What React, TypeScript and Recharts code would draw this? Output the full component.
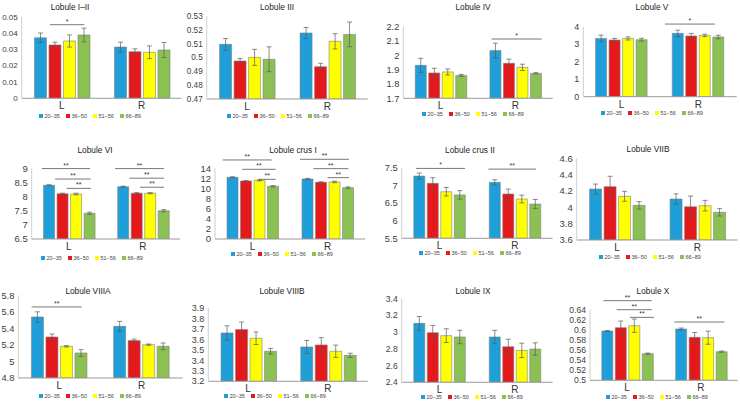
import React from 'react';
import { BarChart, Bar, XAxis, YAxis, ErrorBar, ReferenceLine, Legend } from 'recharts';

const sides = ['L', 'R'];
const ageGroups = ['20–35', '36–50', '51–56', '66–89'];
const barColors = ['#1E9FDA', '#E3191C', '#FFFF00', '#8BC153'];

const titles = ['Lobule I–II', 'Lobule III', 'Lobule IV', 'Lobule V', 'Lobule VI', 'Lobule crus I', 'Lobule crus II', 'Lobule VIIB', 'Lobule VIIIA', 'Lobule VIIIB', 'Lobule IX', 'Lobule X'];

// mean values [L, R] x 4 age groups, and standard errors
const meanI_II = [[0.0371, 0.0327, 0.0351, 0.0388], [0.0314, 0.0286, 0.0282, 0.0296]];
const errI_II = [[0.0029, 0.0017, 0.0037, 0.0042], [0.003, 0.0017, 0.0039, 0.0046]];
const meanIII = [[0.5095, 0.4975, 0.5001, 0.4987], [0.5177, 0.4934, 0.5117, 0.5167]];
const errIII = [[0.0042, 0.0018, 0.0058, 0.009], [0.004, 0.0024, 0.0055, 0.0089]];
const meanIV = [[1.93, 1.877, 1.884, 1.86], [2.033, 1.944, 1.916, 1.874]];
const errIV = [[0.049, 0.033, 0.021, 0.007], [0.052, 0.03, 0.022, 0.005]];
const meanV = [[3.33, 3.24, 3.33, 3.26], [3.62, 3.47, 3.5, 3.41]];
const errV = [[0.19, 0.09, 0.09, 0.08], [0.18, 0.15, 0.07, 0.1]];
const meanVI = [[8.4, 8.1, 8.09, 7.41], [8.35, 8.12, 8.12, 7.5]];
const errVI = [[0.02, 0.02, 0.03, 0.04], [0.02, 0.02, 0.02, 0.04]];
const meanCrusI = [[12.22, 11.49, 11.62, 10.44], [11.89, 11.23, 11.3, 10.17]];
const errCrusI = [[0.1, 0.1, 0.1, 0.15], [0.12, 0.1, 0.15, 0.15]];
const meanCrusII = [[7.264, 7.057, 6.82, 6.73], [7.085, 6.755, 6.613, 6.47]];
const errCrusII = [[0.085, 0.16, 0.12, 0.12], [0.075, 0.14, 0.11, 0.13]];
const meanVIIB = [[4.224, 4.253, 4.135, 4.024], [4.102, 4.008, 4.02, 3.939]];
const errVIIB = [[0.061, 0.127, 0.061, 0.045], [0.063, 0.13, 0.065, 0.045]];
const meanVIIIA = [[5.538, 5.296, 5.183, 5.102], [5.425, 5.252, 5.203, 5.183]];
const errVIIIA = [[0.062, 0.035, 0.008, 0.04], [0.06, 0.018, 0.008, 0.04]];
const meanVIIIB = [[3.662, 3.694, 3.611, 3.487], [3.528, 3.547, 3.487, 3.448]];
const errVIIIB = [[0.068, 0.072, 0.06, 0.027], [0.062, 0.07, 0.059, 0.02]];
const meanIX = [[3.105, 2.994, 2.958, 2.942], [2.942, 2.826, 2.782, 2.798]];
const errIX = [[0.082, 0.086, 0.082, 0.08], [0.08, 0.09, 0.086, 0.074]];
const meanX = [[0.5977, 0.6044, 0.6083, 0.5528], [0.6017, 0.5852, 0.5845, 0.5568]];
const errX = [[0.001, 0.0132, 0.0132, 0.0013], [0.002, 0.0096, 0.013, 0.0013]];

// y-axis ticks
const ticksI_II = [0, 0.01, 0.02, 0.03, 0.04, 0.05];
const ticksIII = [0.47, 0.48, 0.49, 0.5, 0.51, 0.52, 0.53];
const ticksIV = [1.7, 1.8, 1.9, 2, 2.1, 2.2];
const ticksV = [0, 1, 2, 3, 4];
const ticksVI = [6.5, 7, 7.5, 8, 8.5, 9];
const ticksCrusI = [0, 2, 4, 6, 8, 10, 12, 14];
const ticksCrusII = [5.5, 6, 6.5, 7, 7.5];
const ticksVIIB = [3.6, 3.8, 4, 4.2, 4.4, 4.6];
const ticksVIIIA = [4.8, 5, 5.2, 5.4, 5.6, 5.8];
const ticksVIIIB = [3.2, 3.3, 3.4, 3.5, 3.6, 3.7, 3.8, 3.9];
const ticksIX = [2.4, 2.6, 2.8, 3, 3.2, 3.4];
const ticksX = [0.5, 0.52, 0.54, 0.56, 0.58, 0.6, 0.62, 0.64];

// significance brackets: [from, to] on a 0..2 scale across L|R, level, mark
const sigI_II = [[0.354, 0.783, 0.0451, '*']];
const sigIV = [[1.183, 1.853, 2.114, '*']];
const sigV = [[1.065, 1.717, 4.15, '*']];
const sigVI = [[0.135, 0.787, 8.99, '**'], [0.315, 0.796, 8.62, '**'], [0.472, 0.796, 8.29, '**'], [1.124, 1.784, 8.99, '**'], [1.317, 1.784, 8.65, '**'], [1.461, 1.784, 8.33, '**']];
const sigCrusI = [[0.102, 0.756, 15.65, '**'], [0.364, 0.809, 13.8, '**'], [0.587, 0.809, 11.82, '**'], [1.133, 1.787, 15.78, '**'], [1.311, 1.778, 13.93, '**'], [1.502, 1.787, 12.15, '**']];
const sigCrusII = [[0.19, 0.839, 7.48, '*'], [1.148, 1.779, 7.46, '**']];
const sigVIIIA = [[0.162, 0.771, 5.659, '**']];
const sigX = [[0.181, 0.835, 0.6579, '**'], [0.361, 0.835, 0.64, '**'], [0.542, 0.867, 0.6248, '**'], [1.142, 1.819, 0.6156, '**']];

const FONT = '"Liberation Sans", Arial, sans-serif';

const panels = [
  { mean: meanI_II, err: errI_II, ticks: ticksI_II, sig: sigI_II, cellX: 0, cellY: 0, axisX: 21.7, right: 181.7, top: 16.7, bot: 98.3, titleX: 70, titleY: 7, legendX: 40, legendY: 116, tf: 8 },
  { mean: meanIII, err: errIII, ticks: ticksIII, sig: [], cellX: 185, cellY: 0, axisX: 206.7, right: 367.7, top: 16, bot: 99, titleX: 277, titleY: 7, legendX: 228, legendY: 116, tf: 8.2 },
  { mean: meanIV, err: errIV, ticks: ticksIV, sig: sigIV, cellX: 370, cellY: 0, axisX: 403.3, right: 552.7, top: 26.7, bot: 98.3, titleX: 473, titleY: 7, legendX: 423, legendY: 114, tf: 9.3 },
  { mean: meanV, err: errV, ticks: ticksV, sig: sigV, cellX: 555, cellY: 0, axisX: 583.3, right: 736.7, top: 26.7, bot: 96.7, titleX: 652, titleY: 7, legendX: 602, legendY: 113, tf: 9 },
  { mean: meanVI, err: errVI, ticks: ticksVI, sig: sigVI, cellX: 0, cellY: 135, axisX: 31.7, right: 180, top: 168.3, bot: 239, titleX: 95, titleY: 150, legendX: 42, legendY: 257.7, tf: 9.5 },
  { mean: meanCrusI, err: errCrusI, ticks: ticksCrusI, sig: sigCrusI, cellX: 185, cellY: 135, axisX: 215, right: 365, top: 168.3, bot: 239, titleX: 293, titleY: 150, legendX: 232, legendY: 254.3, tf: 9.5 },
  { mean: meanCrusII, err: errCrusII, ticks: ticksCrusII, sig: sigCrusII, cellX: 370, cellY: 135, axisX: 401.7, right: 552.7, top: 167.7, bot: 238.3, titleX: 470, titleY: 150, legendX: 420, legendY: 253.3, tf: 9.3 },
  { mean: meanVIIB, err: errVIIB, ticks: ticksVIIB, sig: [], cellX: 555, cellY: 135, axisX: 576.7, right: 737.7, top: 158.3, bot: 240, titleX: 648, titleY: 149, legendX: 600, legendY: 256.7, tf: 9.5 },
  { mean: meanVIIIA, err: errVIIIA, ticks: ticksVIIIA, sig: sigVIIIA, cellX: 0, cellY: 268, axisX: 18.3, right: 182.7, top: 295.3, bot: 378, titleX: 88, titleY: 290.5, legendX: 40, legendY: 396.3, tf: 9.3 },
  { mean: meanVIIIB, err: errVIIIB, ticks: ticksVIIIB, sig: [], cellX: 185, cellY: 268, axisX: 208.3, right: 367.7, top: 308, bot: 381.3, titleX: 282, titleY: 290.5, legendX: 225, legendY: 395.7, tf: 9 },
  { mean: meanIX, err: errIX, ticks: ticksIX, sig: [], cellX: 370, cellY: 268, axisX: 401.7, right: 552.7, top: 298.7, bot: 382.3, titleX: 473, titleY: 290.5, legendX: 422, legendY: 397.3, tf: 8.6 },
  { mean: meanX, err: errX, ticks: ticksX, sig: sigX, cellX: 555, cellY: 268, axisX: 590, right: 737.7, top: 309.7, bot: 380.3, titleX: 653, titleY: 290.5, legendX: 607, legendY: 397.3, tf: 8.6 },
];

const fmt = (v: number) => String(Number(Number(v).toFixed(4)));

const renderLegend = (props: any) => (
  <div style={{ display: 'flex', fontSize: 5.5, lineHeight: '8px', color: '#444', fontFamily: FONT, whiteSpace: 'nowrap' }}>
    {(props.payload || []).map((p: any) => (
      <div key={p.value} style={{ width: 27, display: 'flex', alignItems: 'center' }}>
        <span style={{ width: 4, height: 4, background: p.color, marginRight: 1.5, display: 'inline-block' }} />
        <span>{p.value}</span>
      </div>
    ))}
  </div>
);

const H = 134;
const XH = 14;

function Panel({ p, title }: { p: any; title: string }) {
  const W = p.right - p.cellX + 2;
  const data = sides.map((s, i) => {
    const row: any = { side: s };
    ageGroups.forEach((_, k) => {
      row['v' + k] = p.mean[i][k];
      row['e' + k] = p.err[i][k];
    });
    return row;
  });
  const t = p.ticks;
  return (
    <>
      <div style={{ position: 'absolute', left: p.titleX - 60, top: p.titleY - 5, width: 120, textAlign: 'center', fontSize: 8.3, lineHeight: '10px', color: '#222', fontFamily: FONT }}>{title}</div>
      <div style={{ position: 'absolute', left: p.cellX, top: p.cellY, width: W, height: H }}>
        <BarChart
          width={W}
          height={H}
          data={data}
          margin={{ top: p.top - p.cellY, right: 2, left: 0, bottom: H - (p.bot - p.cellY) - XH }}
          barCategoryGap="16%"
          barGap={2.5}
          style={{ overflow: 'visible' }}
        >
          <XAxis dataKey="side" height={XH} tickLine={false} tickSize={2} tickMargin={2} axisLine={{ stroke: '#9a9a9a' }} tick={{ fontSize: 10, fill: '#333', fontFamily: FONT }} />
          <XAxis xAxisId="n" type="number" domain={[0, 1]} allowDataOverflow hide />
          <YAxis
            type="number"
            width={p.axisX - p.cellX}
            domain={[t[0], t[t.length - 1]]}
            ticks={t}
            interval={0}
            allowDataOverflow
            tickLine={false}
            tickSize={2}
            tickMargin={2}
            axisLine={{ stroke: '#cfcfcf' }}
            tick={{ fontSize: p.tf, fill: '#404040', fontFamily: FONT }}
            tickFormatter={fmt}
          />
          {ageGroups.map((g, k) => (
            <Bar key={g} dataKey={'v' + k} name={g} fill={barColors[k]} stroke="#808080" strokeWidth={0.6} isAnimationActive={false}>
              <ErrorBar dataKey={'e' + k} width={2.5} stroke="#5a5a5a" strokeWidth={0.7} direction="y" isAnimationActive={false} />
            </Bar>
          ))}
          {p.sig.map((s: any, i: number) => (
            <ReferenceLine
              key={i}
              xAxisId="n"
              segment={[{ x: s[0] / 2, y: s[2] }, { x: s[1] / 2, y: s[2] }]}
              stroke="#555"
              strokeWidth={0.8}
              ifOverflow="visible"
              label={{ value: s[3], position: 'top', fontSize: 7, fill: '#333', offset: 1 }}
            />
          ))}
          <Legend
            layout="horizontal"
            verticalAlign="middle"
            align="center"
            content={renderLegend}
            wrapperStyle={{ top: p.legendY - p.cellY - 4, left: p.legendX - p.cellX - 1, width: 120, margin: 0 }}
          />
        </BarChart>
      </div>
    </>
  );
}

export default function App() {
  return (
    <div style={{ position: 'absolute', left: 0, top: 0, width: 740, height: 402, background: '#fff', overflow: 'hidden', fontFamily: FONT }}>
      {panels.map((p, i) => (
        <Panel key={i} p={p} title={titles[i]} />
      ))}
    </div>
  );
}
